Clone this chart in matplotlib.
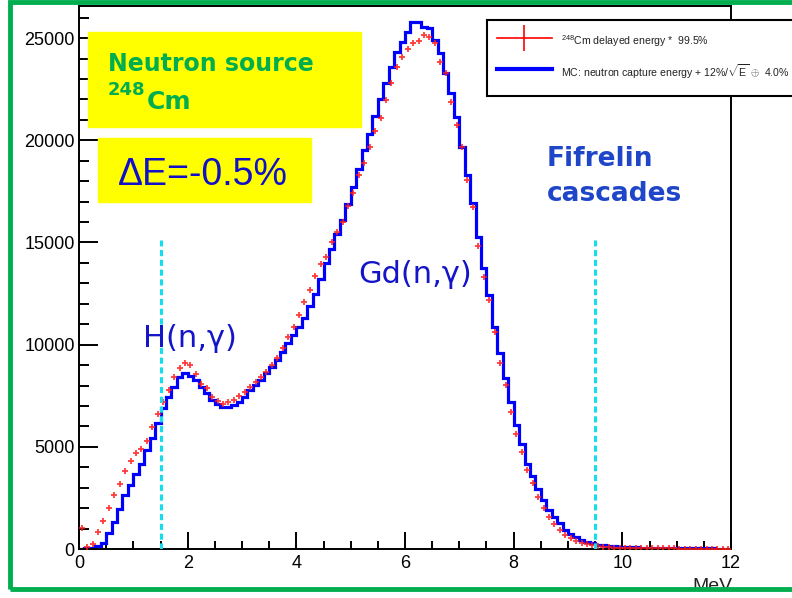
import numpy as np
import matplotlib
matplotlib.use("Agg")
import matplotlib.pyplot as plt
from matplotlib.patches import Rectangle
from matplotlib.lines import Line2D
from matplotlib.legend_handler import HandlerTuple
from matplotlib.ticker import MultipleLocator

plt.rcParams["font.family"] = ["Liberation Sans", "DejaVu Sans"]
plt.rcParams["mathtext.fontset"] = "custom"
plt.rcParams["mathtext.rm"] = "Liberation Sans"
plt.rcParams["mathtext.it"] = "Liberation Sans:italic"

# 0.1 MeV bins from 0 to 12 MeV
bin_edges = np.round(np.linspace(0.0, 12.0, 121), 2)

# MC: neutron capture energy (smeared), counts per bin
mc_counts = [
    20, 30, 60, 150, 310, 770, 1340, 1940, 2640, 3130,
    3650, 4160, 4840, 5410, 6150, 6880, 7450, 7940, 8430, 8600,
    8450, 8270, 7940, 7620, 7290, 7090, 6960, 6960, 7040, 7210,
    7450, 7780, 8020, 8270, 8600, 8920, 9250, 9650, 10060, 10470,
    10880, 11290, 11900, 12500, 13200, 14000, 14700, 15400, 16100, 16900,
    17700, 18600, 19500, 20300, 21200, 22000, 22800, 23600, 24300, 24800,
    25300, 25800, 25800, 25550, 25470, 24900, 24250, 23270, 22290, 21150,
    19680, 18300, 16910, 15280, 13730, 12430, 10880, 9610, 8350, 7210,
    6070, 5140, 4150, 3550, 2950, 2380, 1920, 1580, 1260, 930,
    730, 570, 440, 330, 280, 220, 180, 150, 130, 110,
    100, 90, 80, 70, 65, 60, 55, 50, 45, 42,
    40, 37, 35, 32, 30, 28, 26, 24, 22, 20,
]

# 248Cm delayed energy (data), counts per bin
cm_counts = [
    1050, 80, 230, 850, 1370, 1990, 2660, 3170, 3830, 4320,
    4680, 4890, 5280, 5950, 6590, 7210, 7800, 8400, 8840, 9110,
    9000, 8550, 8070, 7860, 7450, 7260, 7090, 7210, 7290, 7500,
    7670, 7940, 8190, 8430, 8670, 9000, 9360, 9820, 10390, 10880,
    11450, 12100, 12670, 13370, 13940, 14270, 15000, 15490, 15980, 16780,
    17430, 18300, 18900, 19680, 20470, 21070, 21970, 22810, 23600, 24090,
    24450, 24740, 24870, 25150, 25030, 24740, 23840, 23300, 21880, 20740,
    19680, 18050, 16720, 14820, 13320, 12180, 10630, 9090, 8020, 6690,
    5630, 4730, 3860, 3210, 2560, 1990, 1550, 1200, 920, 700,
    530, 400, 300, 230, 180, 140, 110, 90, 70, 60,
    50, 46, 42, 39, 36, 33, 31, 29, 27, 25,
    24, 22, 21, 20, 19, 18, 17, 16, 15, 14,
]

# analysis window (MeV) and height of the marker lines
cut_energies = [1.5, 9.5]
cut_height = 15100

legend_labels = [
    r"$^{248}$Cm delayed energy *  99.5%",
    r"MC: neutron capture energy + 12%/$\sqrt{\mathrm{E}}$ $\oplus$  4.0%",
]

W, H = 792, 598


def fx(x):
    return x / W


def fy(y):
    return 1 - y / H


fig = plt.figure(figsize=(W / 100, H / 100), dpi=100)
ax = fig.add_axes([fx(79), fy(549), (731 - 79) / W, (549 - 6) / H])

centers = 0.5 * (bin_edges[:-1] + bin_edges[1:])
ax.stairs(mc_counts, bin_edges, color="#0000FF", lw=2.3, zorder=2)
ax.plot(centers, cm_counts, ls="none", marker="+", ms=4.6, mew=1.3,
        color="#FF1A1A", alpha=0.85, zorder=3)
ax.vlines(cut_energies, 0, cut_height, colors="#14DDEE",
          linestyles=(0, (2.0, 1.2)), lw=2.2, zorder=4)

ax.set_xlim(0, 12)
ax.set_ylim(0, 26570)
ax.xaxis.set_major_locator(MultipleLocator(2))
ax.xaxis.set_minor_locator(MultipleLocator(0.5))
ax.yaxis.set_major_locator(MultipleLocator(5000))
ax.yaxis.set_minor_locator(MultipleLocator(1000))
ax.tick_params(which="both", direction="in", top=False, right=False,
               width=1.4, color="black")
ax.tick_params(which="major", length=14, labelsize=13)
ax.tick_params(axis="x", which="major", length=12, pad=4)
ax.tick_params(axis="x", which="minor", length=6)
ax.tick_params(axis="y", which="major", length=14, pad=3)
ax.tick_params(axis="y", which="minor", length=7)
for side, sp in ax.spines.items():
    sp.set_linewidth(1.4)
    sp.set_color("black")

fig.text(fx(712), fy(578), "MeV", ha="center", va="top", fontsize=14,
         color="#222222")

# label panels
fig.add_artist(Rectangle((fx(88), fy(127)), (361 - 88) / W, (127 - 32) / H,
                         transform=fig.transFigure, color="#FFFF00", zorder=6))
fig.add_artist(Rectangle((fx(98), fy(202)), (311 - 98) / W, (202 - 138) / H,
                         transform=fig.transFigure, color="#FFFF00", zorder=6))

green = "#00AE4F"
fig.text(fx(108), fy(71), "Neutron source", ha="left", va="baseline",
         fontsize=17, fontweight="bold", color=green,
         family="DejaVu Sans", zorder=7)
fig.text(fx(108), fy(95), "248", ha="left", va="baseline", fontsize=13,
         fontweight="bold", color=green, family="DejaVu Sans", zorder=7)
fig.text(fx(147), fy(109), "Cm", ha="left", va="baseline", fontsize=18,
         fontweight="bold", color=green, family="DejaVu Sans", zorder=7)
fig.text(fx(118), fy(185), "\u0394E=-0.5%", ha="left", va="baseline",
         fontsize=27, color="#1010C8", family="Liberation Sans", zorder=7)

fig.text(fx(143), fy(347), "H(n,\u03b3)", ha="left", va="baseline",
         fontsize=22, color="#1414C8", family="DejaVu Sans", zorder=7)
fig.text(fx(358), fy(283), "Gd(n,\u03b3)", ha="left", va="baseline",
         fontsize=22, color="#1414C8", family="DejaVu Sans", zorder=7)
fig.text(fx(547), fy(166), "Fifrelin", ha="left", va="baseline",
         fontsize=19, fontweight="bold", color="#1F45C8",
         family="DejaVu Sans", zorder=7)
fig.text(fx(547), fy(201), "cascades", ha="left", va="baseline",
         fontsize=19, fontweight="bold", color="#1F45C8",
         family="DejaVu Sans", zorder=7)

# legend
red_handle = (Line2D([], [], color="red", lw=1.2),
              Line2D([], [], color="red", ls="none", marker="|", ms=19,
                     mew=1.2))
blue_handle = Line2D([], [], color="#0000FF", lw=3)
leg = fig.legend([red_handle, blue_handle], legend_labels,
                 handler_map={tuple: HandlerTuple(ndivide=1)},
                 loc="upper left", bbox_to_anchor=(fx(487), fy(20)),
                 bbox_transform=fig.transFigure, frameon=True,
                 fancybox=False, edgecolor="black", framealpha=1,
                 borderpad=0.93, handlelength=5.2, handleheight=3.3,
                 labelspacing=0.6, handletextpad=0.9, borderaxespad=0,
                 prop={"family": "Liberation Sans", "size": 7.6})
leg.get_frame().set_linewidth(1.5)
for t in leg.get_texts():
    t.set_color("#222222")

# outer frame
fig.add_artist(Rectangle((fx(9.5), fy(589)), (820 - 9.5) / W, (589 - 1.5) / H,
                         transform=fig.transFigure, fill=False,
                         ec=green, lw=3.5, zorder=10, clip_on=False))

fig.savefig("out.png", dpi=100)
